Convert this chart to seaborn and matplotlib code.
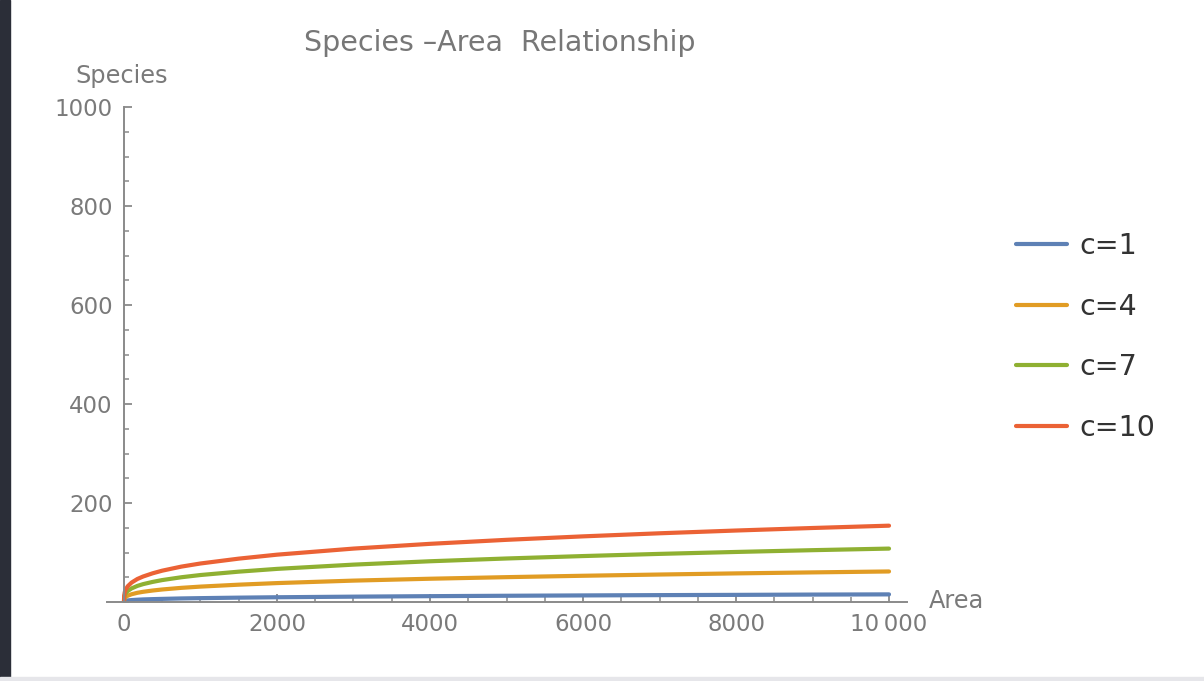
import seaborn as sns
import matplotlib.pyplot as plt
import matplotlib.patches as patches
from matplotlib.ticker import MultipleLocator, FixedLocator
import pandas as pd

# Values
area = [0, 2, 10, 25, 50, 100, 175, 250, 375, 500, 750, 1000, 1500, 2000, 3000, 4000,
        5000, 6000, 7000, 8000, 9000, 10000]
species_c1 = [0, 1.2, 2.0, 2.6, 3.2, 3.9, 4.6, 5.2, 5.8, 6.3, 7.2, 7.8, 8.8, 9.6, 10.8,
              11.8, 12.6, 13.3, 13.9, 14.4, 15.0, 15.4]
species_c4 = [0, 4.9, 7.9, 10.4, 12.8, 15.7, 18.6, 20.6, 23.2, 25.3, 28.6, 31.1, 35.0,
              38.2, 43.2, 47.0, 50.2, 53.0, 55.5, 57.8, 59.8, 61.7]
species_c7 = [0, 8.6, 13.9, 18.2, 22.4, 27.5, 32.5, 36.1, 40.6, 44.3, 50.0, 54.5, 61.3,
              66.9, 75.5, 82.3, 87.9, 92.8, 97.2, 101.1, 104.7, 107.9]
species_c10 = [0, 12.3, 19.8, 26.0, 32.0, 39.3, 46.5, 51.5, 58.0, 63.3, 71.5, 77.8, 87.6,
               95.6, 107.9, 117.5, 125.6, 132.6, 138.8, 144.4, 149.5, 154.2]
labels = ["c=1", "c=4", "c=7", "c=10"]
colors = ["#5E81B5", "#E19C24", "#8FB032", "#EB6235"]

frames = []
for lab, vals in zip(labels, [species_c1, species_c4, species_c7, species_c10]):
    frames.append(pd.DataFrame({"Area": area, "Species": vals, "c": lab}))
df = pd.concat(frames)

sns.set_style("white")
plt.rcParams['font.family'] = ['DejaVu Sans']

fig = plt.figure(figsize=(12.04, 6.81), dpi=100)
ax = fig.add_axes([107 / 1204, 1 - 602 / 681, 800 / 1204, 495 / 681])

sns.lineplot(data=df, x="Area", y="Species", hue="c", palette=colors,
             linewidth=3.0, ax=ax, legend=False)

grey = "#8a8a8a"
ax.set_xlim(-222, 10235)
ax.set_ylim(0, 1000)
ax.spines['left'].set_position(('data', 0))
ax.spines['bottom'].set_position(('data', 0))
for s in ['top', 'right']:
    ax.spines[s].set_visible(False)
for s in ['left', 'bottom']:
    ax.spines[s].set_color(grey)
    ax.spines[s].set_linewidth(1.4)

ax.xaxis.set_major_locator(FixedLocator([0, 2000, 4000, 6000, 8000, 10000]))
ax.xaxis.set_minor_locator(MultipleLocator(500))
ax.yaxis.set_major_locator(FixedLocator([200, 400, 600, 800, 1000]))
ax.yaxis.set_minor_locator(MultipleLocator(50))
ax.set_xticklabels(["0", "2000", "4000", "6000", "8000", "10\u2009000"])
ax.tick_params(which='both', direction='in', bottom=True, left=True, colors=grey,
               labelcolor="#7a7a7a", labelsize=16.5)
ax.tick_params(which='major', length=6, width=1.3)
ax.tick_params(which='minor', length=3.5, width=1.1)
ax.tick_params(axis='x', pad=8)
ax.tick_params(axis='y', pad=8)
ax.set_xlabel("")
ax.set_ylabel("")

fig.text(122 / 1204, 1 - 76 / 681, "Species", ha='center', va='center',
         fontsize=17.3, color="#7a7a7a")
fig.text(929 / 1204, 1 - 601 / 681, "Area", ha='left', va='center',
         fontsize=17.3, color="#7a7a7a")
fig.text(500 / 1204, 1 - 43 / 681, "Species \u2013Area  Relationship", ha='center',
         va='center', fontsize=20.5, color="#777777")

# legend
handles = [plt.Line2D([], [], color=c, linewidth=3.0) for c in colors]
fig.legend(handles, labels, loc='center left', bbox_to_anchor=(990 / 1204, 1 - 337 / 681),
           frameon=False, fontsize=20.5, handlelength=1.8, handletextpad=0.45,
           labelspacing=1.15, labelcolor="#333333")

# screenshot borders
fig.patches.append(patches.Rectangle((0, 0), 10 / 1204, 1, transform=fig.transFigure,
                                     color="#2b2e38", zorder=10))
fig.patches.append(patches.Rectangle((0, 0), 1, 4 / 681, transform=fig.transFigure,
                                     color="#e6e6ea", zorder=10))

fig.savefig("out.png", dpi=100)
